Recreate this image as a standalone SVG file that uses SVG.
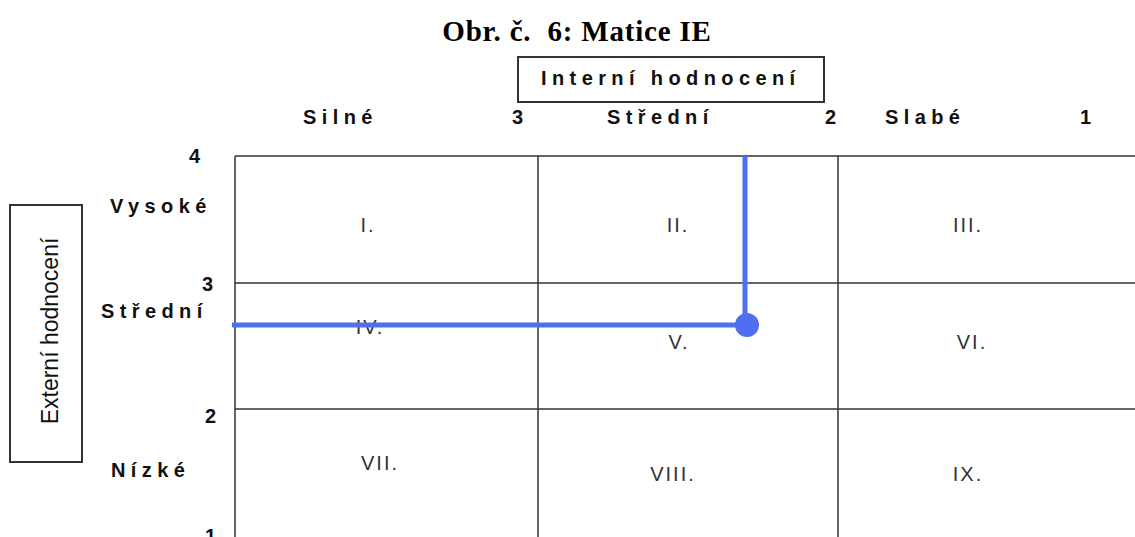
<svg xmlns="http://www.w3.org/2000/svg" width="1135" height="537" viewBox="0 0 1135 537">
<style>
.title{font-family:"Liberation Serif",serif;font-weight:bold;font-size:29px;fill:#000;letter-spacing:0.8px}
.lab{font-family:"Liberation Sans",Arial,sans-serif;font-weight:bold;font-size:20px;fill:#111;letter-spacing:5.4px}
.num{font-family:"Liberation Sans",Arial,sans-serif;font-weight:bold;font-size:20px;fill:#111}
.cell{font-family:"Liberation Sans Narrow","Liberation Sans",Arial,sans-serif;font-stretch:condensed;font-size:20px;fill:#333;text-anchor:middle;letter-spacing:2px}
.grid{stroke:#333;stroke-width:1.5;fill:none}
.box{stroke:#333;stroke-width:2;fill:#fff}
.blue{stroke:#4F6EF0;stroke-width:5;fill:none}
</style>
<rect width="1135" height="537" fill="#fff"/>
<text class="title" x="577" y="41" text-anchor="middle" xml:space="preserve">Obr. č.  6: Matice IE</text>
<g id="internal-box">
<rect class="box" x="518" y="57" width="306" height="45"/>
<text class="lab" x="541" y="85">Interní hodnocení</text>
</g>
<g id="external-box">
<rect class="box" x="10" y="205" width="72" height="257"/>
<text x="0" y="0" transform="translate(58,331) rotate(-90)" text-anchor="middle" style="font-family:'Liberation Sans Narrow','Liberation Sans',Arial,sans-serif;font-stretch:condensed;font-size:23px;fill:#111">Externí hodnocení</text>
</g>
<g id="col-headers">
<text class="lab" x="303" y="124">Silné</text>
<text class="num" x="512" y="124">3</text>
<text class="lab" x="607" y="124">Střední</text>
<text class="num" x="825" y="124">2</text>
<text class="lab" x="885" y="124">Slabé</text>
<text class="num" x="1080" y="124">1</text>
</g>
<g id="row-headers">
<text class="num" x="189" y="163">4</text>
<text class="lab" x="110" y="213">Vysoké</text>
<text class="num" x="202" y="291">3</text>
<text class="lab" x="101" y="318">Střední</text>
<text class="num" x="205" y="423">2</text>
<text class="lab" x="111" y="477">Nízké</text>
<text class="num" x="205" y="543">1</text>
</g>
<g id="grid">
<line class="grid" x1="235" y1="156" x2="1135" y2="156"/>
<line class="grid" x1="235" y1="283" x2="1135" y2="283"/>
<line class="grid" x1="235" y1="409" x2="1135" y2="409"/>
<line class="grid" x1="235" y1="156" x2="235" y2="537"/>
<line class="grid" x1="538" y1="156" x2="538" y2="537"/>
<line class="grid" x1="838" y1="156" x2="838" y2="537"/>
</g>
<g id="cells">
<text class="cell" x="368" y="232">I.</text>
<text class="cell" x="678" y="232">II.</text>
<text class="cell" x="968" y="232">III.</text>
<text class="cell" x="370" y="334">IV.</text>
<text class="cell" x="679" y="349">V.</text>
<text class="cell" x="972" y="349">VI.</text>
<text class="cell" x="380" y="470">VII.</text>
<text class="cell" x="673" y="481">VIII.</text>
<text class="cell" x="968" y="481">IX.</text>
</g>
<g id="connectors">
<line class="blue" x1="745" y1="156" x2="745" y2="325"/>
<line class="blue" x1="232" y1="325" x2="745" y2="325"/>
<circle cx="747" cy="325" r="12" fill="#4F6EF0"/>
</g>
</svg>
